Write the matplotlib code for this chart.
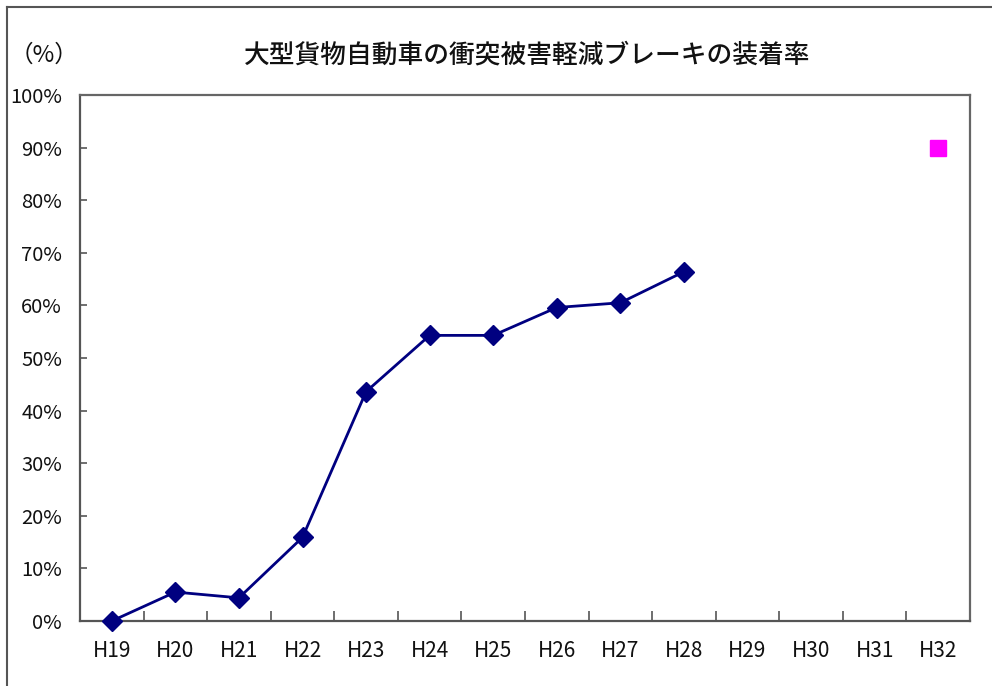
import matplotlib
matplotlib.use("Agg")
import matplotlib.pyplot as plt
from matplotlib.lines import Line2D
from matplotlib.ticker import FuncFormatter

plt.rcParams['font.family'] = ['Noto Sans CJK JP', 'DejaVu Sans']

categories = ["H19", "H20", "H21", "H22", "H23", "H24", "H25",
              "H26", "H27", "H28", "H29", "H30", "H31", "H32"]
actual_cats = ["H19", "H20", "H21", "H22", "H23", "H24", "H25", "H26", "H27", "H28"]
actual_vals = [0.0, 5.5, 4.4, 15.9, 43.6, 54.3, 54.3, 59.6, 60.5, 66.4]
target_cat = ["H32"]
target_val = [90.0]
title = "大型貨物自動車の衝突被害軽減ブレーキの装着率"
y_unit = "（%）"
y_ticks = [0, 10, 20, 30, 40, 50, 60, 70, 80, 90, 100]

W, H = 992, 686
fig = plt.figure(figsize=(W / 100, H / 100), dpi=100)
ax = fig.add_axes([80 / W, 1 - 621 / H, (970 - 80) / W, (621 - 95) / H])

idx = {c: i for i, c in enumerate(categories)}
xa = [idx[c] for c in actual_cats]
xt = [idx[c] for c in target_cat]

ax.plot(xa, actual_vals, color='#000080', lw=2.0, marker='D', markersize=10,
        markerfacecolor='#000080', markeredgecolor='#000080', zorder=3, clip_on=False)
ax.plot(xt, target_val, linestyle='none', marker='s', markersize=12,
        markerfacecolor='#FF00FF', markeredgecolor='#FF00FF', zorder=3)

ax.set_xlim(-0.5, len(categories) - 0.5)
ax.set_ylim(0, 100)
ax.set_yticks(y_ticks)
ax.yaxis.set_major_formatter(FuncFormatter(lambda v, p: f"{int(v)}%"))
ax.set_xticks(range(len(categories)))
ax.set_xticklabels(categories)
ax.set_xticks([i + 0.5 for i in range(len(categories) - 1)], minor=True)
ax.tick_params(axis='x', which='major', length=0, pad=14, labelsize=15, labelcolor='#111111')
ax.tick_params(axis='x', which='minor', direction='in', length=7, width=1.2, color='#555555')
ax.tick_params(axis='y', which='major', direction='in', length=5, width=1.2, color='#555555',
               pad=13, labelsize=14.5, labelcolor='#111111')

for s in ['left', 'bottom']:
    ax.spines[s].set_color('#555555')
    ax.spines[s].set_linewidth(1.6)
for s in ['top', 'right']:
    ax.spines[s].set_color('#666666')
    ax.spines[s].set_linewidth(1.6)

fig.text(527 / W, 1 - 55 / H, title, ha='center', va='center', fontsize=18.5,
         fontweight='medium', color='#111111')
fig.text(44 / W, 1 - 55 / H, y_unit, ha='center', va='center', fontsize=17, color='#111111')

# outer chart frame (top and left edges visible)
fig.add_artist(Line2D([7 / W, 1.0], [1 - 7 / H, 1 - 7 / H], transform=fig.transFigure,
                      color='#555555', lw=1.5))
fig.add_artist(Line2D([7 / W, 7 / W], [0, 1 - 7 / H], transform=fig.transFigure,
                      color='#555555', lw=1.5))

fig.savefig("out.png", dpi=100)
